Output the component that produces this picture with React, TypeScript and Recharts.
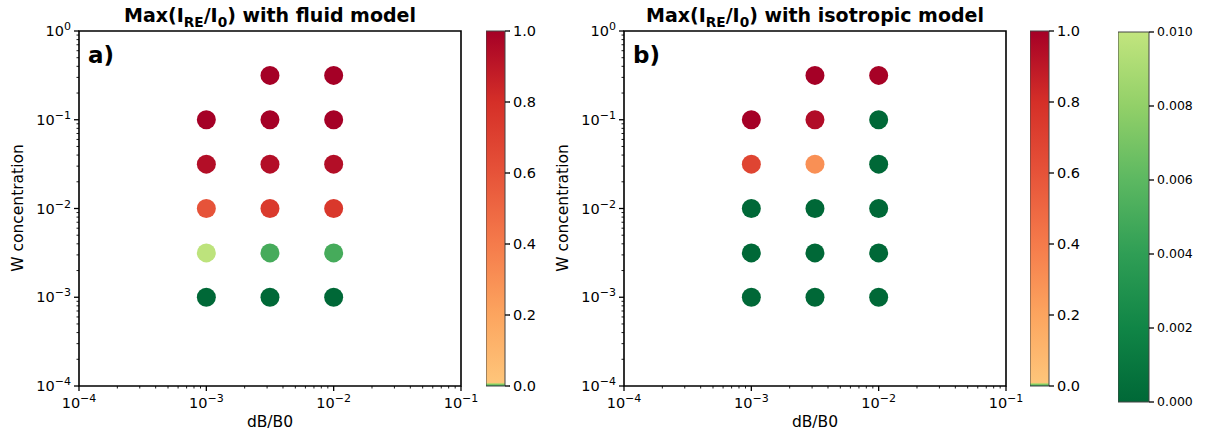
import React from "react";
import { Bar, BarChart, ReferenceArea, Scatter, ScatterChart, XAxis, YAxis } from "recharts";

// grid of simulated cases
const DB_B0 = [1e-3, 3.16e-3, 1e-2];
const W_CONC = [3.16e-1, 1e-1, 3.16e-2, 1e-2, 3.16e-3, 1e-3];

// Max(I_RE/I_0), rows follow W_CONC, columns follow DB_B0 (null = not run)
const FLUID_MAX = [
  [null, 1.0, 1.0],
  [1.0, 1.0, 1.0],
  [0.94, 0.94, 0.94],
  [0.6, 0.74, 0.75],
  [0.0098, 0.005, 0.005],
  [0, 0, 0],
];
const ISO_MAX = [
  [null, 1.0, 0.99],
  [1.0, 0.95, 0],
  [0.68, 0.3, 0],
  [0, 0, 0],
  [0, 0, 0],
  [0, 0, 0],
];

const MAJOR_X = [1e-4, 1e-3, 1e-2, 1e-1];
const MAJOR_Y = [1e-4, 1e-3, 1e-2, 1e-1, 1];
const MINOR_MULT = [2, 3, 4, 5, 6, 7, 8, 9];
const RED_TICKS = [0, 0.2, 0.4, 0.6, 0.8, 1.0];
const GREEN_TICKS = [0, 0.002, 0.004, 0.006, 0.008, 0.01];

const RED_STOPS: [number, string][] = [
  [0, "#fec57a"],
  [0.2, "#fca55f"],
  [0.4, "#f57b4b"],
  [0.6, "#e65339"],
  [0.8, "#d52f28"],
  [1, "#a50026"],
];
const GREEN_STOPS: [number, string][] = [
  [0, "#006837"],
  [0.2, "#108546"],
  [0.4, "#2f9e55"],
  [0.6, "#5cb861"],
  [0.8, "#92d068"],
  [1, "#c2e57e"],
];

const FONT = "'DejaVu Sans', 'Liberation Sans', sans-serif";

function hex(c: string) {
  return [1, 3, 5].map((i) => parseInt(c.slice(i, i + 2), 16));
}
function interp(stops: [number, string][], t: number) {
  t = Math.max(0, Math.min(1, t));
  for (let i = 1; i < stops.length; i++) {
    if (t <= stops[i][0]) {
      const [t0, c0] = stops[i - 1];
      const [t1, c1] = stops[i];
      const f = (t - t0) / (t1 - t0);
      const a = hex(c0);
      const b = hex(c1);
      return `rgb(${a.map((v, k) => Math.round(v + (b[k] - v) * f)).join(",")})`;
    }
  }
  return stops[stops.length - 1][1];
}
function valueColor(v: number) {
  if (v < 0.01) return interp(GREEN_STOPS, v / 0.01);
  return interp(RED_STOPS, v);
}

function withMinors(major: number[]) {
  const out: number[] = [];
  major.forEach((m, i) => {
    out.push(m);
    if (i < major.length - 1) MINOR_MULT.forEach((k) => out.push(m * k));
  });
  return out;
}
const X_TICKS = withMinors(MAJOR_X);
const Y_TICKS = withMinors(MAJOR_Y);

function Pow({ v, x, y, anchor }: { v: number; x: number; y: number; anchor: string }) {
  const e = Math.round(Math.log10(v));
  return (
    <text x={x} y={y} textAnchor={anchor} fontSize={14.5} fill="#000" fontFamily={FONT}>
      <tspan>10</tspan>
      <tspan dy={-6} fontSize={11}>
        {e < 0 ? `\u2212${-e}` : `${e}`}
      </tspan>
    </text>
  );
}

const isMajor = (v: number) => Math.abs(Math.log10(v) - Math.round(Math.log10(v))) < 1e-6;

function XTick(props: any) {
  const { x, y, payload } = props;
  const major = isMajor(payload.value);
  return (
    <g>
      <line x1={x} x2={x} y1={y} y2={y + (major ? 5 : 2.5)} stroke="#000" strokeWidth={major ? 1.3 : 0.9} />
      {major && <Pow v={payload.value} x={x} y={y + 22} anchor="middle" />}
    </g>
  );
}
function YTick(props: any) {
  const { x, y, payload } = props;
  const major = isMajor(payload.value);
  return (
    <g>
      <line x1={x} x2={x - (major ? 5 : 2.5)} y1={y} y2={y} stroke="#000" strokeWidth={major ? 1.3 : 0.9} />
      {major && <Pow v={payload.value} x={x - 8} y={y + 5} anchor="end" />}
    </g>
  );
}

function Dot(props: any) {
  const { cx, cy, payload } = props;
  return <circle cx={cx} cy={cy} r={9.5} fill={valueColor(payload.v)} />;
}

function points(grid: (number | null)[][]) {
  const out: { x: number; y: number; v: number }[] = [];
  grid.forEach((row, i) =>
    row.forEach((v, j) => {
      if (v !== null) out.push({ x: DB_B0[j], y: W_CONC[i], v });
    })
  );
  return out;
}

function Panel({ left, title, tag, grid }: { left: number; title: string; tag: string; grid: (number | null)[][] }) {
  return (
    <div style={{ position: "absolute", left, top: 0, width: 480, height: 437 }}>
      <ScatterChart width={480} height={437} margin={{ top: 31, right: 19, bottom: 21, left: 29 }}>
        <XAxis
          type="number"
          dataKey="x"
          scale="log"
          domain={[1e-4, 1e-1]}
          allowDataOverflow
          ticks={X_TICKS}
          interval={0}
          tick={XTick}
          tickSize={0}
          tickMargin={0}
          tickLine={false}
          axisLine={false}
          height={30}
        />
        <YAxis
          type="number"
          dataKey="y"
          scale="log"
          domain={[1e-4, 1]}
          allowDataOverflow
          ticks={Y_TICKS}
          interval={0}
          tick={YTick}
          tickSize={0}
          tickMargin={0}
          tickLine={false}
          axisLine={false}
          width={50}
        />
        <ReferenceArea x1={1e-4} x2={1e-1} y1={1e-4} y2={1} fill="none" stroke="#000" strokeWidth={1.6} />
        <Scatter data={points(grid)} shape={Dot} isAnimationActive={false} />
      </ScatterChart>
      <div
        style={{
          position: "absolute",
          left: 79,
          width: 382,
          top: 4,
          textAlign: "center",
          fontWeight: "bold",
          fontSize: 19,
          lineHeight: "22px",
          whiteSpace: "nowrap",
        }}
      >
        Max(I<sub style={{ fontSize: "0.72em", lineHeight: 0 }}>RE</sub>/I
        <sub style={{ fontSize: "0.72em", lineHeight: 0 }}>0</sub>) with {title}
      </div>
      <div style={{ position: "absolute", left: 88, top: 42, fontWeight: "bold", fontSize: 23 }}>{tag}</div>
      <div style={{ position: "absolute", left: 79, width: 382, top: 413, textAlign: "center", fontSize: 15.5 }}>
        dB/B0
      </div>
      <div
        style={{
          position: "absolute",
          left: 18,
          top: 208,
          fontSize: 15.5,
          whiteSpace: "nowrap",
          transform: "translate(-50%, -50%) rotate(-90deg)",
        }}
      >
        W concentration
      </div>
    </div>
  );
}

function ColorBar({
  id,
  left,
  top,
  height,
  barWidth,
  ticks,
  stops,
  fontSize,
  digits,
}: {
  id: string;
  left: number;
  top: number;
  height: number;
  barWidth: number;
  ticks: number[];
  stops: [number, string][];
  fontSize: number;
  digits: number;
}) {
  const max = ticks[ticks.length - 1];
  return (
    <div style={{ position: "absolute", left, top: top - 10 }}>
      <BarChart
        width={barWidth + 50}
        height={height + 20}
        data={[{ k: id, v: max }]}
        margin={{ top: 10, bottom: 10, left: 0, right: 0 }}
        barCategoryGap={0}
      >
        <defs>
          <linearGradient id={id} x1="0" y1="1" x2="0" y2="0">
            {stops.map(([o, c]) => (
              <stop key={o} offset={o} stopColor={c} />
            ))}
          </linearGradient>
        </defs>
        <XAxis dataKey="k" hide />
        <YAxis
          orientation="right"
          width={50}
          domain={[0, max]}
          ticks={ticks}
          interval={0}
          tickFormatter={(v: number) => v.toFixed(digits)}
          tick={{ fill: "#000", fontSize }}
          tickLine={{ stroke: "#000", strokeWidth: 1.3 }}
          tickSize={5}
          tickMargin={3}
          axisLine={false}
        />
        <Bar dataKey="v" fill={`url(#${id})`} stroke="#444" strokeWidth={1} isAnimationActive={false} />
      </BarChart>
    </div>
  );
}

// red bar carries the thin green band below 0.01
const RED_BAR_STOPS: [number, string][] = [
  [0, "#1a9850"],
  [0.006, "#a6d96a"],
  [0.01, RED_STOPS[0][1]],
  ...RED_STOPS.slice(1),
];

export default function App() {
  return (
    <div
      style={{
        position: "absolute",
        left: 0,
        top: 0,
        width: 1206,
        height: 437,
        background: "#fff",
        fontFamily: FONT,
        color: "#000",
        overflow: "hidden",
      }}
    >
      <Panel left={0} title="fluid model" tag="a)" grid={FLUID_MAX} />
      <Panel left={545} title="isotropic model" tag="b)" grid={ISO_MAX} />
      <ColorBar id="cbA" left={486} top={31} height={355} barWidth={19} ticks={RED_TICKS} stops={RED_BAR_STOPS} fontSize={14.5} digits={1} />
      <ColorBar id="cbB" left={1030} top={31} height={355} barWidth={19} ticks={RED_TICKS} stops={RED_BAR_STOPS} fontSize={14.5} digits={1} />
      <ColorBar id="cbC" left={1118} top={32} height={370} barWidth={31} ticks={GREEN_TICKS} stops={GREEN_STOPS} fontSize={12.5} digits={3} />
    </div>
  );
}
